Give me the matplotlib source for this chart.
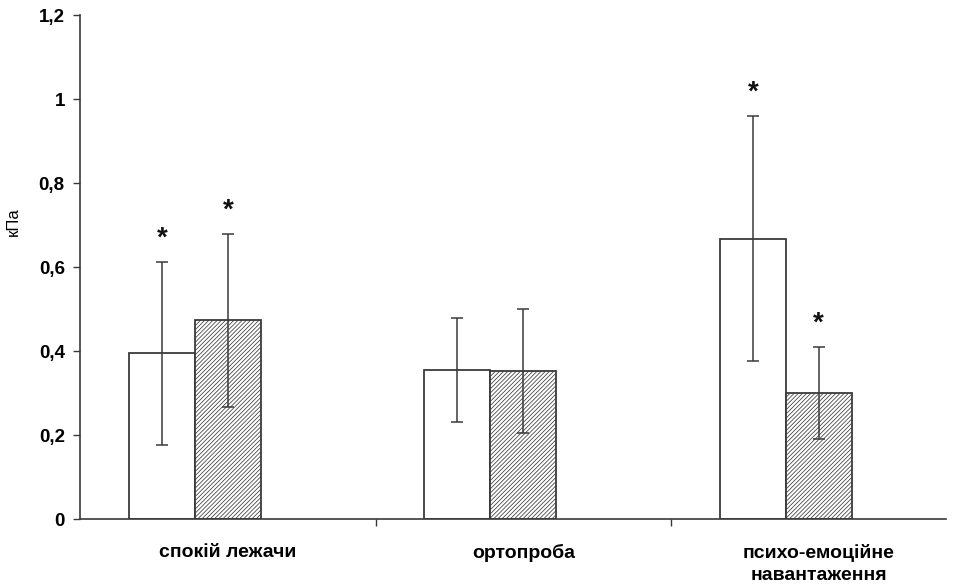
import numpy as np
import matplotlib
matplotlib.use('Agg')
import matplotlib.pyplot as plt
from matplotlib.ticker import FuncFormatter, FixedLocator

plt.rcParams['font.family'] = ['Liberation Sans', 'DejaVu Sans']
plt.rcParams['hatch.color'] = '#a8a8a8'
plt.rcParams['hatch.linewidth'] = 0.55

# ── data ───────────────────────────────────────────────────────────────────
categories = ['спокій лежачи', 'ортопроба', 'психо-емоційне\nнавантаження']
white_vals = [0.395, 0.356, 0.668]
white_err = [0.218, 0.124, 0.291]
hatch_vals = [0.473, 0.353, 0.300]
hatch_err = [0.205, 0.147, 0.110]
white_star = [True, False, True]
hatch_star = [True, False, True]

EDGE = '#3a3a3a'
WIDTH = 0.223
x = np.arange(len(categories))

fig = plt.figure(figsize=(9.62, 5.86), dpi=100)
ax = fig.add_axes([0.0832, 0.1143, 0.9, 0.8597])

err_kw = dict(ecolor=EDGE, elinewidth=1.1, capsize=4, capthick=1.1)
ax.bar(x - WIDTH, white_vals, WIDTH, color='white', edgecolor=EDGE,
       linewidth=1.3, yerr=white_err, error_kw=err_kw, zorder=2)
ax.bar(x, hatch_vals, WIDTH, color='white', edgecolor=EDGE, hatch='////////',
       linewidth=1.3, yerr=hatch_err, error_kw=err_kw, zorder=2)

# significance markers
for xs, vals, errs, flags in [(x - WIDTH, white_vals, white_err, white_star),
                              (x, hatch_vals, hatch_err, hatch_star)]:
    for xi, v, e, f in zip(xs, vals, errs, flags):
        if f:
            ax.text(xi, v + e + 0.025, '*', ha='center', va='bottom',
                    fontsize=20, fontweight='bold', color='#111111')

ax.set_xlim(-0.5, 2.43)
ax.set_ylim(0, 1.2)
ax.set_yticks(np.arange(0, 1.21, 0.2))
ax.yaxis.set_major_formatter(FuncFormatter(
    lambda v, _: '0' if abs(v) < 1e-9 else ('1' if abs(v - 1) < 1e-9 else f'{v:.1f}'.replace('.', ','))))
ax.set_xticks(x)
ax.set_xticklabels(categories, fontsize=14, fontweight='bold', linespacing=1.35)
ax.xaxis.set_minor_locator(FixedLocator([0.5, 1.5]))
ax.tick_params(axis='x', which='major', length=0, pad=18)
ax.tick_params(axis='x', which='minor', length=5, width=1, color=EDGE, direction='out')
ax.tick_params(axis='y', length=5, width=1, color=EDGE, direction='out', pad=6,
               labelsize=13.5)
for lab in ax.get_yticklabels():
    lab.set_fontweight('bold')

ax.set_ylabel('кПа', fontsize=12)
ax.yaxis.set_label_coords(-0.068, 0.59)

for s in ['top', 'right']:
    ax.spines[s].set_visible(False)
for s in ['left', 'bottom']:
    ax.spines[s].set_color(EDGE)
    ax.spines[s].set_linewidth(1.2)

fig.savefig('out.png', dpi=100)
